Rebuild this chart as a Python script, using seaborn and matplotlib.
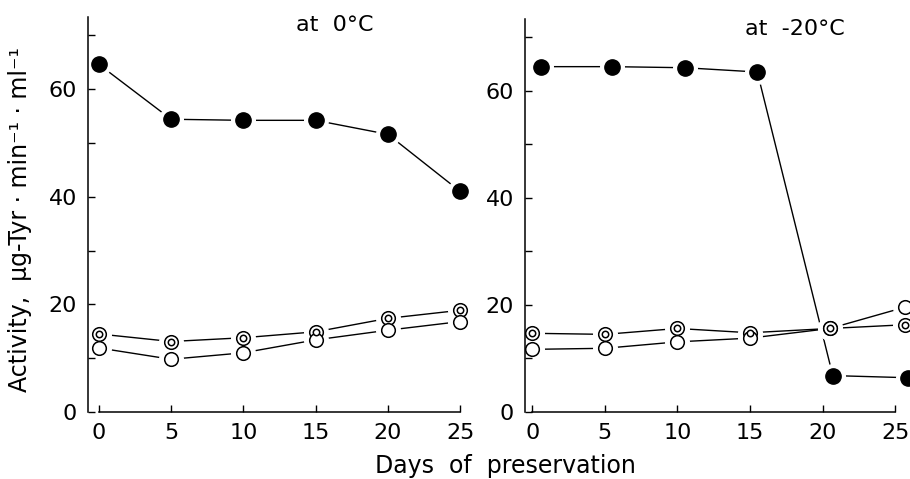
import matplotlib
matplotlib.use("Agg")
import matplotlib.pyplot as plt
import pandas as pd
import seaborn as sns

# values (days, activity)
days = [0, 5, 10, 15, 20, 25]
cold_filled = [64.6, 54.4, 54.2, 54.2, 51.6, 41.0]
cold_double = [14.5, 13.1, 13.8, 14.9, 17.4, 18.9]
cold_open = [11.9, 9.8, 11.0, 13.4, 15.2, 16.8]

frozen_filled_days = [0.6, 5.5, 10.5, 15.5, 20.7, 25.9]
frozen_filled = [64.5, 64.5, 64.3, 63.5, 6.8, 6.4]
frozen_circle_days = [0, 5, 10, 15, 20.5, 25.7]
frozen_double = [14.7, 14.5, 15.6, 14.8, 15.6, 16.3]
frozen_open = [11.7, 11.9, 13.1, 13.8, 15.6, 19.6]

panel_titles = ["at  0°C", "at  -20°C"]
y_ticks = [0, 20, 40, 60]
x_ticks = [0, 5, 10, 15, 20, 25]


def long_frame():
    rows = []
    panels = [
        (0, {"filled": (days, cold_filled), "double": (days, cold_double),
             "open": (days, cold_open)}),
        (1, {"filled": (frozen_filled_days, frozen_filled),
             "double": (frozen_circle_days, frozen_double),
             "open": (frozen_circle_days, frozen_open)}),
    ]
    for panel, series in panels:
        for name, (xs, ys) in series.items():
            for x, y in zip(xs, ys):
                rows.append({"panel": panel, "series": name, "day": x, "activity": y})
    return pd.DataFrame(rows)


def main():
    sns.set_theme(style="ticks")
    plt.rcParams["font.family"] = ["DejaVu Sans"]
    plt.rcParams["text.color"] = "black"
    df = long_frame()

    fig = plt.figure(figsize=(9.1, 4.79), dpi=100)
    axes = [
        fig.add_axes([88 / 910, 1 - 412 / 479, 375 / 910, 395 / 479]),
        fig.add_axes([525 / 910, 1 - 412 / 479, 392 / 910, 393 / 479]),
    ]
    xlims = [(-0.75, 25.2), (-0.5, 26.5)]
    title_pos = [(16.3, 72.0), (18.1, 71.6)]

    for i, ax in enumerate(axes):
        sub = df[df.panel == i]
        sns.lineplot(data=sub, x="day", y="activity", units="series",
                     estimator=None, color="black", lw=1.0, ax=ax, sort=False)
        # white halos give the small gaps between the lines and the markers
        ax.plot(sub["day"], sub["activity"], "o", ms=17, color="white",
                mec="white", zorder=10, clip_on=False)
        filled = sub[sub.series == "filled"]
        rings = sub[sub.series != "filled"]
        double = sub[sub.series == "double"]
        ax.plot(filled["day"], filled["activity"], "o", ms=11, color="black",
                zorder=11, clip_on=False)
        ax.plot(rings["day"], rings["activity"], "o", ms=9.8, mfc="white",
                mec="black", mew=1.1, zorder=11, clip_on=False)
        ax.plot(double["day"], double["activity"], "o", ms=4.6, mfc="white",
                mec="black", mew=1.1, zorder=12, clip_on=False)

        ax.set_xlim(*xlims[i])
        ax.set_ylim(0, 73.4)
        ax.set_xticks(x_ticks)
        ax.set_yticks(y_ticks)
        ax.set_yticks([10, 30, 50, 70], minor=True)
        ax.tick_params(axis="both", which="both", direction="in", length=5,
                       width=1.0, color="black", labelsize=16, pad=8,
                       labelcolor="black")
        ax.set_xlabel("")
        ax.set_ylabel("")
        sns.despine(ax=ax)
        for side in ["left", "bottom"]:
            ax.spines[side].set_linewidth(1.1)
            ax.spines[side].set_color("black")
            ax.spines[side].set_zorder(13)
        ax.xaxis.set_zorder(13)
        ax.yaxis.set_zorder(13)
        ax.spines["bottom"].set_bounds(0, 25)
        ax.set_facecolor("white")
        tx, ty = title_pos[i]
        ax.text(tx, ty, panel_titles[i], ha="center", va="center", fontsize=16,
                color="black")

    fig.text(20 / 910, 1 - 220 / 479, "Activity,  µg-Tyr · min⁻¹ · ml⁻¹",
             rotation=90, ha="center", va="center", fontsize=17, color="black")
    fig.text(505 / 910, 1 - 466 / 479, "Days  of  preservation", ha="center",
             va="center", fontsize=17, color="black")

    fig.savefig("out.png", dpi=100, facecolor="white")


if __name__ == "__main__":
    main()
